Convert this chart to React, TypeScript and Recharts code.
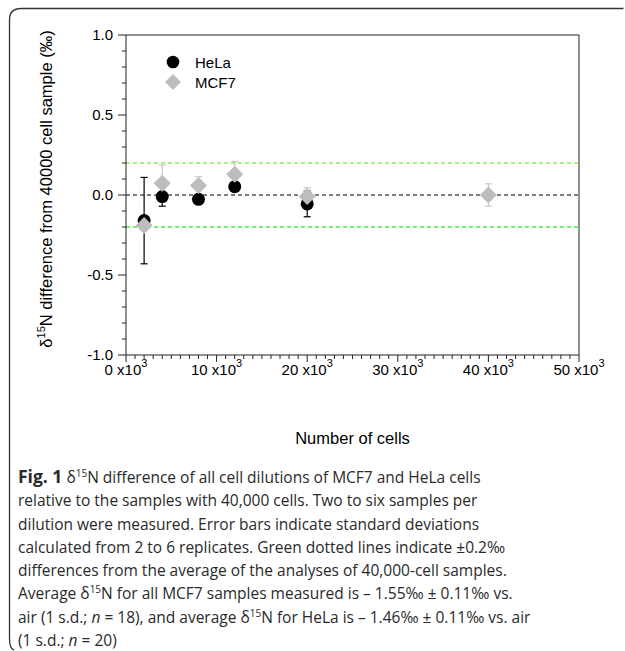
import {
  ScatterChart,
  Scatter,
  XAxis,
  YAxis,
  ErrorBar,
  ReferenceLine,
  Legend,
  Label,
} from 'recharts';

// cells per sample (x) and delta15N difference vs 40000-cell sample (y, permil)
const helaCells = [2000, 4000, 8000, 12000, 20000];
const helaDelta = [-0.16, -0.01, -0.027, 0.052, -0.056];
const helaSd = [0.27, 0.06, 0.02, 0.02, 0.08];

const mcf7Cells = [2000, 4000, 8000, 12000, 20000, 40000];
const mcf7Delta = [-0.19, 0.073, 0.06, 0.13, -0.01, 0.0];
const mcf7Sd = [0.03, 0.115, 0.055, 0.08, 0.055, 0.07];

const seriesNames = ['HeLa', 'MCF7'];

const xMajorTicks = [0, 10000, 20000, 30000, 40000, 50000];
const yMajorTicks = [-1, -0.5, 0, 0.5, 1];
const xMinorStep = 1000;
const yMinorStep = 0.1;

const captionLines = [
  'relative to the samples with 40,000 cells. Two to six samples per',
  'dilution were measured. Error bars indicate standard deviations',
  'calculated from 2 to 6 replicates. Green dotted lines indicate \u00b10.2\u2030',
  'differences from the average of the analyses of 40,000-cell samples.',
];

const W = 625;
const H = 455;
const AXIS = '#222';
const FONT = '"Liberation Sans", Arial, sans-serif';
const GRAY = '#bdbdbd';
const GRAY_BAR = '#c9c9c9';
const GREEN_HI = '#8ef04a';
const GREEN_LO = '#3df03d';

const xTicks = Array.from({ length: 51 }, (_, i) => i * xMinorStep);
const yTicks = Array.from({ length: 21 }, (_, i) => Math.round(i - 10) * yMinorStep);

const helaData = helaCells.map((x, i) => ({ x, y: helaDelta[i], sd: helaSd[i] }));
const mcf7Data = mcf7Cells.map((x, i) => ({ x, y: mcf7Delta[i], sd: mcf7Sd[i] }));

const isMajorX = (v: number) => xMajorTicks.includes(v);
const isMajorY = (v: number) => yMajorTicks.some((t) => Math.abs(t - v) < 1e-6);

function XTick(props: any) {
  const { x, y, payload } = props;
  const major = isMajorX(payload.value);
  return (
    <g>
      <line x1={x} x2={x} y1={y} y2={y + (major ? 7 : 4)} stroke={AXIS} strokeWidth={1} />
      {major && (
        <text x={x} y={y + 20} textAnchor="middle" fontSize={15} fontFamily={FONT} fill="#000">
          {`${payload.value / 1000} x10`}
          <tspan dy={-8} fontSize={11}>3</tspan>
        </text>
      )}
    </g>
  );
}

function YTick(props: any) {
  const { x, y, payload } = props;
  const major = isMajorY(payload.value);
  return (
    <g>
      <line x1={x} x2={x - (major ? 8 : 4)} y1={y} y2={y} stroke={AXIS} strokeWidth={1} />
      {major && (
        <text x={x - 13} y={y} dy="0.36em" textAnchor="end" fontSize={15} fontFamily={FONT} fill="#000">
          {payload.value.toFixed(1)}
        </text>
      )}
    </g>
  );
}

function YTitle(props: any) {
  const { viewBox } = props;
  const cx = viewBox.x + viewBox.width - 74;
  const cy = viewBox.y + viewBox.height / 2 - 6;
  return (
    <text
      x={cx}
      y={cy}
      transform={`rotate(-90 ${cx} ${cy})`}
      textAnchor="middle"
      fontSize={16.5}
      fontFamily={FONT}
      fill="#000"
    >
      δ<tspan dy={-7} fontSize={11}>15</tspan>
      <tspan dy={7}>N difference from 40000 cell sample (‰)</tspan>
    </text>
  );
}

const circleShape = (p: any) => <circle cx={p.cx} cy={p.cy} r={6.5} fill="#000" />;
const diamondShape = (p: any) => (
  <polygon
    points={`${p.cx},${p.cy - 8.5} ${p.cx + 8.5},${p.cy} ${p.cx},${p.cy + 8.5} ${p.cx - 8.5},${p.cy}`}
    fill={GRAY}
  />
);

function LegendBox() {
  return (
    <div style={{ fontFamily: FONT, fontSize: 15, color: '#000' }}>
      {seriesNames.map((name, i) => (
        <div key={name} style={{ display: 'flex', alignItems: 'center', height: 20 }}>
          <svg width={18} height={20}>
            {i === 0 ? (
              <circle cx={9} cy={10} r={6.3} fill="#000" />
            ) : (
              <polygon points="9,2 17,10 9,18 1,10" fill={GRAY} />
            )}
          </svg>
          <span style={{ marginLeft: 13 }}>{name}</span>
        </div>
      ))}
    </div>
  );
}

const supStyle = { fontSize: 10, lineHeight: 0 };

export default function App() {
  return (
    <div
      style={{
        position: 'absolute',
        left: 0,
        top: 0,
        width: W,
        height: 651,
        background: '#fff',
        overflow: 'hidden',
      }}
    >
      <svg width={W} height={651} style={{ position: 'absolute', left: 0, top: 0 }}>
        <path
          d="M 623.5 8.5 H 21 Q 9.5 8.5 9.5 20 V 638 Q 9.5 649 14 650"
          fill="none"
          stroke="#333"
          strokeWidth={1.3}
        />
      </svg>

      <div style={{ position: 'absolute', left: 0, top: 0 }}>
        <ScatterChart width={W} height={H} margin={{ top: 35, right: 46, left: 66, bottom: 70 }}>
          <XAxis
            type="number"
            dataKey="x"
            domain={[0, 50000]}
            ticks={xTicks}
            interval={0}
            tick={<XTick />}
            tickLine={false}
            tickSize={0}
            tickMargin={0}
            axisLine={{ stroke: AXIS }}
            height={30}
          >
            <Label
              value="Number of cells"
              position="bottom"
              offset={47}
              fontSize={16.5}
              fontFamily={FONT}
              fill="#000"
            />
          </XAxis>
          <YAxis
            type="number"
            dataKey="y"
            domain={[-1, 1]}
            ticks={yTicks}
            interval={0}
            tick={<YTick />}
            tickLine={false}
            tickSize={0}
            tickMargin={0}
            axisLine={{ stroke: AXIS }}
            width={60}
          >
            <Label content={<YTitle />} />
          </YAxis>

          <Scatter name={seriesNames[0]} data={helaData} shape={circleShape} isAnimationActive={false}>
            <ErrorBar dataKey="sd" direction="y" width={3.5} stroke="#000" strokeWidth={1.2} />
          </Scatter>
          <Scatter name={seriesNames[1]} data={mcf7Data} shape={diamondShape} isAnimationActive={false}>
            <ErrorBar dataKey="sd" direction="y" width={3.5} stroke={GRAY_BAR} strokeWidth={1.2} />
          </Scatter>

          <ReferenceLine y={0.2} stroke={GREEN_HI} strokeDasharray="4 3" strokeWidth={1.3} />
          <ReferenceLine y={-0.2} stroke={GREEN_LO} strokeDasharray="4 3" strokeWidth={1.3} />
          <ReferenceLine y={0} stroke="#000" strokeDasharray="4 3" strokeWidth={1.2} />
          <ReferenceLine y={1} stroke={AXIS} strokeWidth={1} />
          <ReferenceLine x={50000} stroke={AXIS} strokeWidth={1} />

          <Legend
            layout="vertical"
            align="center"
            verticalAlign="middle"
            wrapperStyle={{ top: 52, left: 164, width: 'auto' }}
            content={<LegendBox />}
          />
        </ScatterChart>
      </div>

      <div
        style={{
          position: 'absolute',
          left: 18,
          top: 465,
          fontFamily: '"Open Sans", sans-serif',
          fontSize: 15.5,
          lineHeight: '23.3px',
          color: '#2a2a2a',
          whiteSpace: 'nowrap',
        }}
      >
        <div>
          <b style={{ fontSize: 17.5 }}>Fig. 1</b> δ<sup style={supStyle}>15</sup>N difference of all cell
          dilutions of MCF7 and HeLa cells
        </div>
        {captionLines.map((line) => (
          <div key={line}>{line}</div>
        ))}
        <div>
          Average δ<sup style={supStyle}>15</sup>N for all MCF7 samples measured is
          {' \u2013 1.55\u2030 \u00b1 0.11\u2030 vs.'}
        </div>
        <div>
          air (1 s.d.; <i>n</i> = 18), and average δ<sup style={supStyle}>15</sup>N for HeLa is{' '}
          {'\u2013 1.46\u2030 \u00b1 0.11\u2030 vs. air'}
        </div>
        <div>
          (1 s.d.; <i>n</i> = 20)
        </div>
      </div>
    </div>
  );
}
